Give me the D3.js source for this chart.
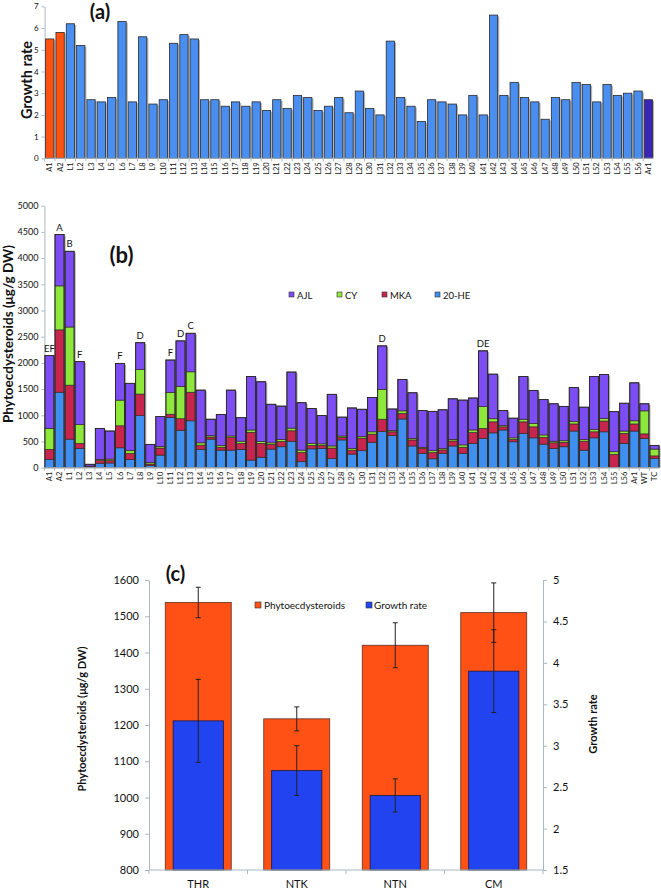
<!DOCTYPE html>
<html><head><meta charset="utf-8">
<script src="https://cdn.jsdelivr.net/npm/d3@7"></script>
<style>
body{margin:0;background:#fff}
svg{display:block}
text{font-family:Lato,"Open Sans","DejaVu Sans",sans-serif;fill:#111}
</style>
</head><body>
<svg id="chart" width="661" height="890"></svg>
<script>
// ---------- Panel (a) data ----------
const catsA = ["A1","A2","L1","L2","L3","L4","L5","L6","L7","L8","L9","L10","L11","L12","L13","L14","L15","L16","L17","L18","L19","L20","L21","L22","L23","L24","L25","L26","L27","L28","L29","L30","L31","L32","L33","L34","L35","L36","L37","L38","L39","L40","L41","L42","L43","L44","L45","L46","L47","L48","L49","L50","L51","L52","L53","L54","L55","L56","Ar1"];
const growthA = [5.5,5.8,6.2,5.2,2.7,2.6,2.8,6.3,2.6,5.6,2.5,2.7,5.3,5.7,5.5,2.7,2.7,2.4,2.6,2.4,2.6,2.2,2.7,2.3,2.9,2.8,2.2,2.4,2.8,2.1,3.1,2.3,2.0,5.4,2.8,2.4,1.7,2.7,2.6,2.5,2.0,2.9,2.0,6.6,2.9,3.5,2.8,2.6,1.8,2.8,2.7,3.5,3.4,2.6,3.4,2.9,3.0,3.1,2.7];
const ticksA = [0,1,2,3,4,5,6,7];

// ---------- Panel (b) data ----------
const catsB = ["A1","A2","L1","L2","L3","L4","L5","L6","L7","L8","L9","L10","L11","L12","L13","L14","L15","L16","L17","L18","L19","L20","L21","L22","L23","L24","L25","L26","L27","L28","L29","L30","L31","L32","L33","L34","L35","L36","L37","L38","L39","L40","L41","L42","L43","L44","L45","L46","L47","L48","L49","L50","L51","L52","L53","L54","L55","L56","Ar1","WT","TC"];
const he20 = [160,1440,545,370,15,85,90,380,155,995,40,240,960,715,895,350,545,335,335,350,145,200,355,400,505,115,360,365,175,530,260,325,485,695,615,930,415,275,170,275,415,275,465,560,665,720,495,655,570,450,370,400,700,335,570,685,0,465,700,560,180];
const mka  = [190,1190,1030,95,15,50,45,420,115,410,30,135,60,220,545,80,40,55,240,115,530,265,90,100,200,175,65,60,200,50,75,240,155,230,70,105,115,95,120,65,95,115,205,190,210,60,45,220,210,130,105,85,135,170,115,205,255,190,135,85,45];
const cy   = [400,840,1110,360,0,25,30,490,55,470,30,30,415,615,390,45,25,30,30,40,45,35,30,40,50,45,40,30,40,25,35,30,45,570,25,50,30,20,35,25,30,45,50,415,60,25,30,50,65,45,30,30,45,30,45,50,50,45,60,440,130];
const ajl  = [1390,980,1445,1200,35,590,535,700,1285,510,345,570,620,870,735,1005,315,595,875,450,1020,1140,735,635,1070,905,665,540,985,360,770,520,655,830,410,600,870,700,750,740,775,855,610,1065,850,285,375,815,630,675,715,655,650,620,1010,840,765,530,725,135,70];
const ticksB = [0,500,1000,1500,2000,2500,3000,3500,4000,4500,5000];
const lettersB = [["A1","EF"],["A2","A"],["L1","B"],["L2","F"],["L6","F"],["L8","D"],["L11","F"],["L12","D"],["L13","C"],["L32","D"],["L42","DE"]];
const seriesB = ["20-HE","MKA","CY","AJL"];
const legendB = ["AJL","CY","MKA","20-HE"];

// ---------- Panel (c) data ----------
const catsC = ["THR","NTK","NTN","CM"];
const phytoC = [1538,1217,1420,1510];
const phytoErrC = [42,33,62,82];
const growthC = [3.3,2.7,2.4,3.9];
const growthErrC = [0.5,0.3,0.2,0.5];
const ticksCL = [800,900,1000,1100,1200,1300,1400,1500,1600];
const ticksCR = [1.5,2,2.5,3,3.5,4,4.5,5];

// ---------- styles ----------
const axisCol = "#a9b8c2";
const colAorange = "#FF5212", colAblue = "#4A8EF0", colApurple = "#3A26B6";
const colB = {"20-HE":"#3F8FF0","MKA":"#C8254E","CY":"#8EE83C","AJL":"#7B4DF2"};
const colCorange = "#FF5116", colCblue = "#2244F0";

const svg = d3.select("#chart");

function styleAxis(g, fs){
  g.select(".domain").attr("stroke", axisCol);
  g.selectAll(".tick line").attr("stroke", axisCol);
  g.selectAll(".tick text").attr("fill","#222").style("font-size", fs+"px").style("font-family","Lato,'Open Sans',sans-serif");
}

// =============== Panel (a) ===============
const xA = d3.scaleBand().domain(catsA).range([44.6, 653.5]).paddingInner(0.2).paddingOuter(0.1);
const yA = d3.scaleLinear().domain([0,7]).range([158.3, 6.4]);
const gA = svg.append("g");

gA.append("g").attr("transform","translate(44.6,0)")
  .call(d3.axisLeft(yA).tickValues(ticksA).tickSize(3).tickSizeOuter(0).tickFormat(d3.format("d")))
  .call(g=>styleAxis(g,8));

gA.selectAll("rect.sh").data(catsA).join("rect")
  .attr("x", d=>xA(d)+1.6).attr("y", (d,i)=>yA(growthA[i])+1.2)
  .attr("width", xA.bandwidth()).attr("height",(d,i)=>yA(0)-yA(growthA[i])-1.2)
  .attr("fill","#9a9a9a").attr("opacity",0.75);
gA.selectAll("rect.bar").data(catsA).join("rect")
  .attr("x", d=>xA(d)).attr("y",(d,i)=>yA(growthA[i]))
  .attr("width", xA.bandwidth()).attr("height",(d,i)=>yA(0)-yA(growthA[i]))
  .attr("fill", d=> d.startsWith("A") && d!=="Ar1" ? colAorange : (d==="Ar1"? colApurple : colAblue))
  .attr("stroke","#2a2a2a").attr("stroke-width",0.8);

gA.append("line").attr("x1",44.6).attr("x2",653.5).attr("y1",yA(0)).attr("y2",yA(0)).attr("stroke",axisCol);
gA.selectAll("line.ct").data(catsA).join("line")
  .attr("x1",d=>xA(d)-xA.step()*0.1).attr("x2",d=>xA(d)-xA.step()*0.1)
  .attr("y1",yA(0)).attr("y2",yA(0)+3).attr("stroke",axisCol);
gA.selectAll("text.xl").data(catsA).join("text")
  .attr("transform", d=>`translate(${xA(d)+xA.bandwidth()/2+2.5},${yA(0)+4}) rotate(-90)`)
  .attr("text-anchor","end").style("font-size","7.5px").text(d=>d);

gA.append("text").attr("transform","translate(32,80) rotate(-90)").attr("text-anchor","middle")
  .style("font-size","14.5px").style("font-weight","bold").text("Growth rate");
gA.append("text").attr("x",100).attr("y",19).attr("text-anchor","middle")
  .style("font-size","20px").style("font-weight","bold").text("(a)");

// =============== Panel (b) ===============
const xB = d3.scaleBand().domain(catsB).range([44.4, 659.5]).paddingInner(0.1).paddingOuter(0.05);
const yB = d3.scaleLinear().domain([0,5000]).range([467.7, 205.7]);
const gB = svg.append("g");

gB.append("g").attr("transform","translate(44.4,0)")
  .call(d3.axisLeft(yB).tickValues(ticksB).tickSize(3).tickSizeOuter(0).tickFormat(d3.format("d")))
  .call(g=>styleAxis(g,9));

const tableB = catsB.map((c,i)=>({cat:c,"20-HE":he20[i],"MKA":mka[i],"CY":cy[i],"AJL":ajl[i]}));
const stackB = d3.stack().keys(seriesB)(tableB);
const totals = tableB.map(d=>d["20-HE"]+d.MKA+d.CY+d.AJL);

gB.selectAll("rect.sh").data(tableB).join("rect")
  .attr("x",(d)=>xB(d.cat)+1.6).attr("y",(d,i)=>yB(totals[i])+1.2)
  .attr("width",xB.bandwidth()).attr("height",(d,i)=>yB(0)-yB(totals[i])-1.2)
  .attr("fill","#9a9a9a").attr("opacity",0.75);
gB.selectAll("g.layer").data(stackB).join("g")
  .attr("fill", s=>colB[s.key])
  .selectAll("rect").data(s=>s).join("rect")
  .attr("x", d=>xB(d.data.cat)).attr("y", d=>yB(d[1]))
  .attr("width", xB.bandwidth()).attr("height", d=>Math.max(0,yB(d[0])-yB(d[1])))
  .attr("stroke","#3a2a2a").attr("stroke-width",0.7);
gB.selectAll("rect.out").data(tableB).join("rect")
  .attr("x",d=>xB(d.cat)).attr("y",(d,i)=>yB(totals[i]))
  .attr("width",xB.bandwidth()).attr("height",(d,i)=>yB(0)-yB(totals[i]))
  .attr("fill","none").attr("stroke","#2a2a2a").attr("stroke-width",0.9);

gB.append("line").attr("x1",44.4).attr("x2",659.5).attr("y1",yB(0)).attr("y2",yB(0)).attr("stroke",axisCol);
gB.selectAll("line.ct").data(catsB).join("line")
  .attr("x1",d=>xB(d)-xB.step()*0.05).attr("x2",d=>xB(d)-xB.step()*0.05)
  .attr("y1",yB(0)).attr("y2",yB(0)+3).attr("stroke",axisCol);
gB.selectAll("text.xl").data(catsB).join("text")
  .attr("transform", d=>`translate(${xB(d)+xB.bandwidth()/2+2.5},${yB(0)+4}) rotate(-90)`)
  .attr("text-anchor","end").style("font-size","7.5px").text(d=>d);

gB.selectAll("text.let").data(lettersB).join("text")
  .attr("x", d=>xB(d[0])+xB.bandwidth()/2)
  .attr("y", d=>yB(totals[catsB.indexOf(d[0])])-4)
  .attr("text-anchor","middle").style("font-size","9.5px").text(d=>d[1]);

const legXB = [289,337,382,435];
legendB.forEach((k,i)=>{
  gB.append("rect").attr("x",legXB[i]).attr("y",292).attr("width",5).attr("height",5)
    .attr("fill",colB[k]).attr("stroke","#333").attr("stroke-width",0.6);
  gB.append("text").attr("x",legXB[i]+8).attr("y",298.5).style("font-size","9.5px").text(k);
});

gB.append("text").attr("transform","translate(13,334) rotate(-90)").attr("text-anchor","middle")
  .style("font-size","13.5px").style("font-weight","bold").text("Phytoecdysteroids (μg/g DW)");
gB.append("text").attr("x",121.5).attr("y",263).attr("text-anchor","middle")
  .style("font-size","22px").style("font-weight","bold").text("(b)");

// =============== Panel (c) ===============
const xC = d3.scaleBand().domain(catsC).range([149,543]);
const yCL = d3.scaleLinear().domain([800,1600]).range([870,580]);
const yCR = d3.scaleLinear().domain([1.5,5]).range([870,580]);
const gC = svg.append("g");

gC.append("g").attr("transform","translate(149,0)")
  .call(d3.axisLeft(yCL).tickValues(ticksCL).tickSize(4).tickSizeOuter(0).tickPadding(6).tickFormat(d3.format("d")))
  .call(g=>styleAxis(g,11));
gC.append("g").attr("transform","translate(543,0)")
  .call(d3.axisRight(yCR).tickValues(ticksCR).tickSize(4).tickSizeOuter(0).tickPadding(6).tickFormat(d=>String(d)))
  .call(g=>styleAxis(g,11));

const wO = xC.bandwidth()*0.67, wB = xC.bandwidth()*0.51;
gC.selectAll("rect.ph").data(catsC).join("rect")
  .attr("x",d=>xC(d)+(xC.bandwidth()-wO)/2).attr("y",(d,i)=>yCL(phytoC[i]))
  .attr("width",wO).attr("height",(d,i)=>yCL(800)-yCL(phytoC[i]))
  .attr("fill",colCorange).attr("stroke","#5a3020").attr("stroke-width",0.8);
gC.selectAll("rect.gr").data(catsC).join("rect")
  .attr("x",d=>xC(d)+(xC.bandwidth()-wB)/2).attr("y",(d,i)=>yCR(growthC[i]))
  .attr("width",wB).attr("height",(d,i)=>yCR(1.5)-yCR(growthC[i]))
  .attr("fill",colCblue).attr("stroke","#1a1a40").attr("stroke-width",0.8);

function errBars(vals, errs, scale){
  catsC.forEach((c,i)=>{
    const cx = xC(c)+xC.bandwidth()/2;
    const y1 = scale(vals[i]+errs[i]), y2 = scale(vals[i]-errs[i]);
    gC.append("line").attr("x1",cx).attr("x2",cx).attr("y1",y1).attr("y2",y2).attr("stroke","#222").attr("stroke-width",1);
    [y1,y2].forEach(y=>gC.append("line").attr("x1",cx-2.5).attr("x2",cx+2.5).attr("y1",y).attr("y2",y).attr("stroke","#222").attr("stroke-width",1));
  });
}
errBars(phytoC, phytoErrC, yCL);
errBars(growthC, growthErrC, yCR);

gC.append("line").attr("x1",149).attr("x2",543).attr("y1",870).attr("y2",870).attr("stroke",axisCol);
gC.selectAll("line.ct").data(catsC.concat(["_end"])).join("line")
  .attr("x1",(d,i)=>149+i*xC.step()).attr("x2",(d,i)=>149+i*xC.step())
  .attr("y1",870).attr("y2",874).attr("stroke",axisCol);
gC.selectAll("text.xl").data(catsC).join("text")
  .attr("x",d=>xC(d)+xC.bandwidth()/2).attr("y",888).attr("text-anchor","middle")
  .style("font-size","11px").text(d=>d);

gC.append("rect").attr("x",255).attr("y",602).attr("width",6).attr("height",6).attr("fill",colCorange).attr("stroke","#333").attr("stroke-width",0.6);
gC.append("text").attr("x",264).attr("y",608.5).style("font-size","10px").text("Phytoecdysteroids");
gC.append("rect").attr("x",366).attr("y",602).attr("width",6).attr("height",6).attr("fill",colCblue).attr("stroke","#333").attr("stroke-width",0.6);
gC.append("text").attr("x",374).attr("y",608.5).style("font-size","10px").text("Growth rate");

gC.append("text").attr("transform","translate(86,719) rotate(-90)").attr("text-anchor","middle")
  .style("font-size","11px").style("font-weight","bold").text("Phytoecdysteroids (μg/g DW)");
gC.append("text").attr("transform","translate(597,724) rotate(-90)").attr("text-anchor","middle")
  .style("font-size","11px").style("font-weight","bold").text("Growth rate");
gC.append("text").attr("x",175.5).attr("y",581).attr("text-anchor","middle")
  .style("font-size","20px").style("font-weight","bold").text("(c)");
</script>
</body></html>
